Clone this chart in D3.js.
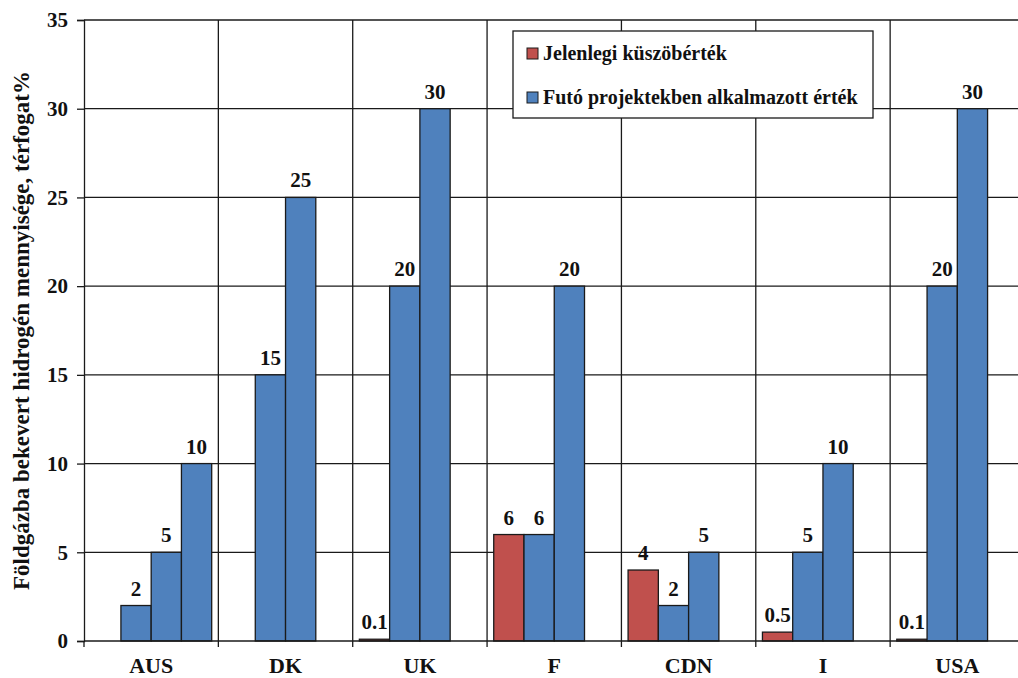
<!DOCTYPE html>
<html>
<head>
<meta charset="utf-8">
<script src="https://cdn.jsdelivr.net/npm/d3@7"></script>
<style>
  html, body { margin: 0; padding: 0; background: #fff; }
  svg { display: block; font-family: "Liberation Serif", "Times New Roman", serif; font-weight: bold; }
</style>
</head>
<body>
<svg id="chart" width="1018" height="678"></svg>
<script>
// Countries on the category axis
const categories = ["AUS", "DK", "UK", "F", "CDN", "I", "USA"];
// Current threshold (red) and values used in running projects (blue, up to three per country)
const currentThreshold = [null, null, 0.1, 6, 4, 0.5, 0.1];
const projectValuesA   = [2, 15, 20, 6, 2, 5, 20];
const projectValuesB   = [5, 25, 30, 20, 5, 10, 30];
const projectValuesC   = [10, null, null, null, null, null, null];
// Value axis ticks
const yTicks = [0, 5, 10, 15, 20, 25, 30, 35];
// Legend entries
const legendLabels = ["Jelenlegi küszöbérték", "Futó projektekben alkalmazott érték"];
const yTitle = "Földgázba bekevert hidrogén mennyisége, térfogat%";

const RED = "#C0504D", BLUE = "#4F81BD", LINE = "#1a1a1a";

const series = [
  { values: currentThreshold, color: RED },
  { values: projectValuesA, color: BLUE },
  { values: projectValuesB, color: BLUE },
  { values: projectValuesC, color: BLUE }
];

const svg = d3.select("#chart");
const plotLeft = 84, plotRight = 1024.5, plotTop = 20, plotBottom = 641;

const x = d3.scaleBand().domain(categories).range([plotLeft, plotRight]).padding(0);
const slot = d3.scaleBand().domain(d3.range(series.length))
  .range([0, x.bandwidth()]).paddingInner(0).paddingOuter(0.22);
const y = d3.scaleLinear().domain([0, 35]).range([plotBottom, plotTop]);

// Horizontal gridlines
svg.append("g").selectAll("line").data(yTicks.filter(t => t > 0)).join("line")
  .attr("x1", plotLeft).attr("x2", plotRight)
  .attr("y1", d => y(d)).attr("y2", d => y(d))
  .attr("stroke", LINE).attr("stroke-width", 1.3);

// Vertical gridlines at category boundaries, extending into tick marks below the axis
const boundaries = categories.map(c => x(c)).concat([plotRight]);
svg.append("g").selectAll("line").data(boundaries.slice(1)).join("line")
  .attr("x1", d => d).attr("x2", d => d)
  .attr("y1", plotTop).attr("y2", plotBottom + 6)
  .attr("stroke", LINE).attr("stroke-width", 1.3);

// Value axis
const yAxis = svg.append("g").attr("transform", `translate(${plotLeft},0)`)
  .call(d3.axisLeft(y).tickValues(yTicks).tickSize(7).tickPadding(9).tickFormat(d3.format("d")));
yAxis.select(".domain").attr("stroke", LINE).attr("stroke-width", 1.3);
yAxis.selectAll(".tick line").attr("stroke", LINE).attr("stroke-width", 1.3);
yAxis.selectAll("text").attr("font-size", 21).attr("font-family", "Liberation Serif")
  .attr("font-weight", "bold").attr("fill", "#111");

// Bars with value labels
series.forEach((s, si) => {
  const data = categories.map((c, i) => ({ c, v: s.values[i] })).filter(d => d.v != null);
  const g = svg.append("g");
  g.selectAll("rect").data(data).join("rect")
    .attr("x", d => x(d.c) + slot(si))
    .attr("width", slot.bandwidth())
    .attr("y", d => y(d.v))
    .attr("height", d => y(0) - y(d.v))
    .attr("fill", s.color)
    .attr("stroke", LINE).attr("stroke-width", 1.3);
  g.selectAll("text").data(data).join("text")
    .attr("x", d => x(d.c) + slot(si) + slot.bandwidth() / 2)
    .attr("y", d => y(d.v) - 10)
    .attr("text-anchor", "middle")
    .attr("font-size", 21).attr("fill", "#111")
    .text(d => String(d.v));
});

// Category axis line
svg.append("line").attr("x1", plotLeft).attr("x2", plotRight)
  .attr("y1", plotBottom).attr("y2", plotBottom)
  .attr("stroke", LINE).attr("stroke-width", 1.3);
svg.append("line").attr("x1", plotLeft).attr("x2", plotLeft)
  .attr("y1", plotBottom).attr("y2", plotBottom + 6)
  .attr("stroke", LINE).attr("stroke-width", 1.3);

// Category labels
svg.append("g").selectAll("text").data(categories).join("text")
  .attr("x", d => x(d) + x.bandwidth() / 2)
  .attr("y", 673)
  .attr("text-anchor", "middle")
  .attr("font-size", 22).attr("fill", "#111")
  .text(d => d);

// Value axis title
svg.append("text")
  .attr("transform", `translate(29, ${(plotTop + plotBottom) / 2}) rotate(-90)`)
  .attr("text-anchor", "middle")
  .attr("font-size", 23).attr("fill", "#111")
  .text(yTitle);

// Legend
const legend = svg.append("g");
legend.append("rect").attr("x", 513).attr("y", 31).attr("width", 360).attr("height", 87)
  .attr("fill", "#fff").attr("stroke", LINE).attr("stroke-width", 1.3);
const legendColors = [RED, BLUE];
legendLabels.forEach((lab, i) => {
  const cy = 53.5 + i * 44;
  legend.append("rect").attr("x", 527).attr("y", cy - 5.5).attr("width", 11).attr("height", 11)
    .attr("fill", legendColors[i]).attr("stroke", LINE).attr("stroke-width", 1);
  legend.append("text").attr("x", 543).attr("y", cy + 6.5)
    .attr("font-size", 20).attr("fill", "#111").text(lab);
});
</script>
</body>
</html>
